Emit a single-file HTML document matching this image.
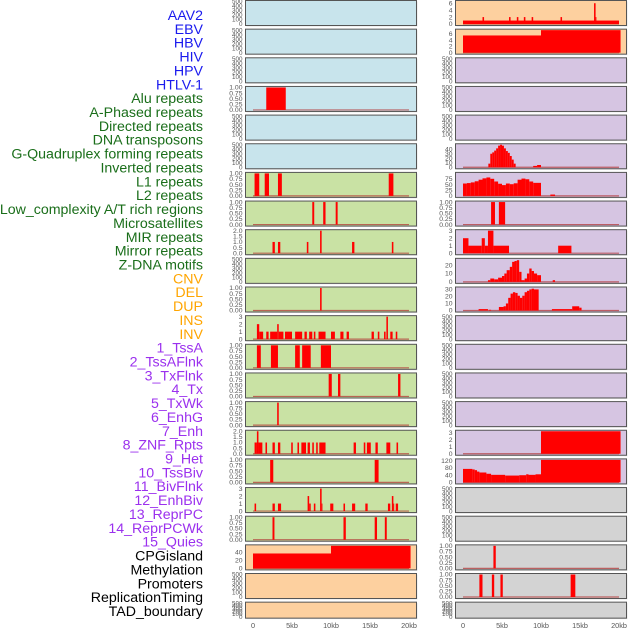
<!DOCTYPE html>
<html><head><meta charset="utf-8"><style>
html,body{margin:0;padding:0;background:#fff;width:630px;height:630px;overflow:hidden}
svg{display:block}
</style></head><body>
<svg id="chart" width="630" height="630" viewBox="0 0 630 630" xmlns="http://www.w3.org/2000/svg" font-family="Liberation Sans, sans-serif"></svg>
<script>
const labels=["AAV2","EBV","HBV","HIV","HPV","HTLV-1","Alu repeats","A-Phased repeats","Directed repeats","DNA transposons","G-Quadruplex forming repeats","Inverted repeats","L1 repeats","L2 repeats","Low_complexity A/T rich regions","Microsatellites","MIR repeats","Mirror repeats","Z-DNA motifs","CNV","DEL","DUP","INS","INV","1_TssA","2_TssAFlnk","3_TxFlnk","4_Tx","5_TxWk","6_EnhG","7_Enh","8_ZNF_Rpts","9_Het","10_TssBiv","11_BivFlnk","12_EnhBiv","13_ReprPC","14_ReprPCWk","15_Quies","CPGisland","Methylation","Promoters","ReplicationTiming","TAD_boundary"];
const labelGroups=[6,13,5,15,5];
const xTickLabels=["0","5kb","10kb","15kb","20kb"];
const xTickValues=[0,5,10,15,20];
const T500=[0,100,200,300,400,500];
const T1=[0,0.25,0.5,0.75,1];
const leftBg=["b","b","b","b","b","b","g","g","g","g","g","g","g","g","g","g","g","g","g","o","o","o"];
const rightBg=["o","o","p","p","p","p","p","p","p","p","p","p","p","p","p","p","p","y","y","y","y","y"];
const leftTicks=[T500,T500,T500,T1,T500,T500,T1,T1,[0,0.5,1,1.5,2],T500,T1,[0,1,2,3],T1,T1,T1,[0,0.5,1,1.5,2],T1,[0,1,2,3],T1,[0,20,40],T500,T500];
const leftMax=[500,500,500,1,500,500,1,1,2,500,1,3,1,1,1,2,1,3,1,56,500,500];
const leftData=[[],[],[],[[1.7,4.2,1]],[],[],
[[0.2,0.8,1],[1.5,2.05,1],[3.2,3.7,1],[17.4,18,1]],
[[7.6,7.85,1],[9.0,9.3,1],[10.6,10.85,1]],
[[2.5,2.8,1],[3.2,3.5,1],[6.9,7.1,1],[8.6,8.8,2],[12.7,13.0,1],[17.8,18.0,1]],
[],
[[8.6,8.8,1]],
[[0.5,0.8,2],[0.8,1.3,1],[1.7,2.0,1],[2.2,3.1,1],[3.1,3.3,2],[3.3,3.9,1],[4.1,5.0,1],[5.4,6.3,1],[6.6,6.9,1],[7.2,7.6,1],[7.8,8.0,1],[8.4,9.3,1],[10.0,10.5,1],[11.2,11.6,1],[12.0,12.3,1],[15.2,15.5,1],[16.0,16.2,1],[16.8,17.0,1],[17.1,17.3,3],[17.6,17.9,1],[18.3,18.5,1]],
[[0.5,1.0,1],[2.3,3.2,1],[5.4,6.0,1],[6.3,7.4,1],[8.7,10.0,1]],
[[9.7,10.1,1],[10.9,11.2,1],[18.6,18.9,1]],
[[3.1,3.3,1]],
[[0.2,0.5,1],[0.5,0.7,2],[0.7,1.2,1],[1.6,1.8,1],[2.5,2.8,1],[3.2,3.5,1],[4.9,5.1,1],[5.7,5.9,1],[6.2,6.8,1],[7.0,7.3,1],[7.6,7.8,1],[8.1,8.3,1],[8.5,9.3,1],[12.9,13.2,1],[14.2,14.4,1],[14.6,15.1,1],[15.7,16.0,1],[17.1,17.6,1],[18.4,18.6,1]],
[[2.2,2.6,1],[15.6,16.1,1]],
[[0.2,0.4,1],[2.5,2.8,1],[3.2,3.6,1],[7.0,7.2,2],[7.2,7.4,1],[7.8,8.0,1],[8.6,8.8,3],[8.8,8.9,1],[9.9,10.3,1],[11.6,11.8,1],[12.7,13.1,1],[14.4,14.7,1],[17.3,17.6,1],[17.8,18.0,2],[18.0,18.1,1],[18.3,18.6,1]],
[[2.5,2.75,1],[11.6,11.9,1],[15.6,15.9,1],[16.9,17.15,1]],
[[0,10,37],[10,20.2,56]],
[],[]];
const rightTicks=[[0,2,4,6],[0,2,4,6],T500,T500,T500,[0,10,20,30,40],[0,25,50,75],T1,[0,1,2,3],[0,10,20],[0,10,20,30],T500,T500,T500,T500,[0,1,2,3],[0,40,80,120],T500,T500,T1,T1,T500];
const rightMax=[6.5,7.2,500,500,500,50,100,1,3,27,32,500,500,500,500,3.2,125,500,500,1,1,500];
const rightData=[
[[0,20,1],[2.5,2.7,2],[5.9,6.1,2],[6.9,7.1,2],[7.8,8.0,2],[8.8,9.0,2],[12.5,12.7,2],[16.8,17.0,6],[17.0,17.1,2]],
[[0,10,5.5],[10,20.2,7.2]],
[],[],[],
[[3.25,3.5,8],[3.5,3.75,30],[3.75,4,33],[4,4.25,37],[4.25,4.5,42],[4.5,4.75,48],[4.75,5,50],[5,5.25,48],[5.25,5.5,42],[5.5,5.75,36],[5.75,6,32],[6,6.25,25],[6.25,6.5,17],[6.5,6.75,8],[9,9.5,3],[9.5,10,5]],
[[0,0.5,55],[0.5,1,57],[1,1.5,60],[1.5,2,65],[2,2.5,72],[2.5,3,78],[3,3.5,82],[3.5,4,76],[4,4.5,64],[4.5,5,54],[5,5.5,48],[5.5,6,55],[6,6.5,52],[6.5,7,56],[7,7.5,72],[7.5,8,77],[8,8.5,74],[8.5,9,64],[9,10,58],[11.2,11.8,6]],
[[3.6,4.1,1],[4.6,5.4,1]],
[[0,0.7,2],[0.7,2.4,1],[2.4,2.8,2],[2.8,3.2,1],[3.2,3.9,3],[3.9,5.9,1],[12.2,13.9,1]],
[[3.2,3.5,2],[3.5,4,4],[4,4.5,3],[4.5,5,5],[5,5.3,7],[5.3,5.6,10],[5.6,6,14],[6,6.3,18],[6.3,6.6,24],[6.6,6.9,25],[6.9,7.2,26],[7.2,7.5,12],[7.5,7.9,2],[7.9,8.2,4],[8.2,8.5,10],[8.5,8.8,16],[8.8,9.1,13],[9.1,9.5,10],[9.5,10,8],[11.5,11.8,2]],
[[2,3.2,2],[3.3,3.6,1],[4.6,5.2,5],[5.2,5.5,6],[5.5,5.8,10],[5.8,6.1,18],[6.1,6.4,24],[6.4,6.7,26],[6.7,7,25],[7,7.3,21],[7.3,7.6,18],[7.6,7.9,21],[7.9,8.2,26],[8.2,8.5,28],[8.5,8.8,30],[8.8,9.1,31],[9.1,9.7,30],[11.4,14,2],[14,14.9,6],[14.9,15.2,4]],
[],[],[],[],
[[10,20.2,3.2]],
[[0,1.2,75],[1.2,1.5,72],[1.5,1.8,68],[1.8,2.1,60],[2.1,3,55],[3,3.6,48],[3.6,5.4,42],[5.4,7.2,38],[7.2,8.1,40],[8.1,8.4,45],[8.4,9.3,42],[9.3,10,45],[10,20.2,125]],
[],[],
[[3.9,4.2,1]],
[[2.1,2.5,1],[3.7,4.0,1],[4.8,5.1,1],[13.8,14.4,1]],
[]];
const NS="http://www.w3.org/2000/svg";
const svg=document.getElementById('chart');
function mk(t,a,p){const e=document.createElementNS(NS,t);for(const k in a)e.setAttribute(k,a[k]);(p||svg).appendChild(e);return e;}
const bgCol={b:"#c8e4ec",g:"#c9e2a4",o:"#fdd09f",p:"#d6c5e2",y:"#d3d3d3"};
const gCols=["#1a1aee","#1a6e1a","#ffa500","#9b30ee","#000"];
let gi=0,cnt=0;
labels.forEach((t,i)=>{
  if(cnt>=labelGroups[gi]){gi++;cnt=0;} cnt++;
  const e=mk('text',{x:203,y:15+i*13.86+5,'text-anchor':'end','font-size':14.2,fill:gCols[gi]});
  e.textContent=t;
  
  
});
function rowTop(i){return i*28.65;}
function drawPanel(col,i,bg,data,ticks,ymax){
  const px=col?455.5:245.5,pw=171,top=rowTop(i)+0.5,h=(i==21?16:25);
  const x0=px+7.5, xs=k=>x0+k*7.8;
  const yb=top+h-1.5, yt=top+1, ys=v=>yb-Math.min(v,ymax)/ymax*(yb-yt);
  const g=mk('g',{});
  
  
  mk('rect',{x:px+1,y:top+1,width:pw,height:h,fill:'#e6e6e6'},g);
  mk('rect',{x:px,y:top,width:pw,height:h,fill:bgCol[bg],stroke:'#555','stroke-width':1},g);
  if(data.length){
    const bl=mk('line',{x1:xs(0),x2:xs(20),y1:yb,y2:yb,stroke:'#b03030','stroke-opacity':0.7,'stroke-width':1.2},g);
    
    
  }
  data.forEach(s=>{
    const y=ys(s[2]);
    const r=mk('rect',{x:xs(s[0]),y:y,width:Math.max(0.8,xs(s[1])-xs(s[0])),height:yb-y,fill:'#ff0000'},g);
    
    
  });
  const tmax=ticks[ticks.length-1];
  ticks.forEach(t=>{
    const y=ys(t);
    const lab=(tmax==1)?t.toFixed(2):(tmax==2?t.toFixed(1):String(t));
    const e=mk('text',{x:px-3,y:y+2.2,'text-anchor':'end','font-size':(tmax==500?6.3:6.8),fill:'#555'},g);
    e.textContent=lab;
    
    
  });
}
for(let i=0;i<22;i++){
  drawPanel(0,i,leftBg[i],leftData[i],leftTicks[i],leftMax[i]);
  drawPanel(1,i,rightBg[i],rightData[i],rightTicks[i],rightMax[i]);
}
[245.5,455.5].forEach((px,c)=>{
  xTickValues.forEach((v,j)=>{
    const e=mk('text',{x:px+7.5+v*7.8,y:628,'text-anchor':'middle','font-size':7.3,fill:'#555'});
    e.textContent=xTickLabels[j];
    
    
  });
});
</script>
</body></html>
